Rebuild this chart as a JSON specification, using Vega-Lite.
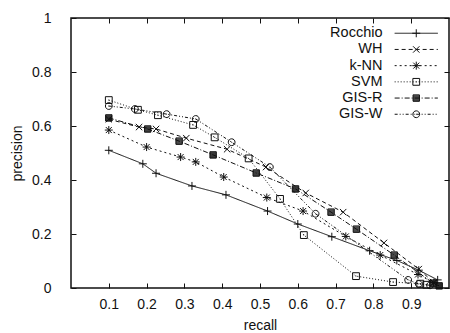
{
  "$schema": "https://vega.github.io/schema/vega-lite/v6.json",
  "width": 378,
  "height": 270,
  "autosize": {"type": "none"},
  "padding": {"left": 71, "top": 18, "right": 1, "bottom": 45},
  "config": {
    "font": "Liberation Sans",
    "view": {"stroke": "#111", "strokeWidth": 1.5},
    "axis": {"grid": false, "domain": false, "tickColor": "#111", "tickWidth": 1, "labelColor": "#111", "titleColor": "#111", "labelFontSize": 14, "titleFontSize": 14, "titleFontWeight": "normal"},
    "legend": {"padding": 0}
  },
  "data": {
    "values": [
      {"method": "Rocchio", "recall": 0.1, "precision": 0.51},
      {"method": "Rocchio", "recall": 0.19, "precision": 0.46},
      {"method": "Rocchio", "recall": 0.225, "precision": 0.425},
      {"method": "Rocchio", "recall": 0.32, "precision": 0.378},
      {"method": "Rocchio", "recall": 0.41, "precision": 0.345},
      {"method": "Rocchio", "recall": 0.52, "precision": 0.285},
      {"method": "Rocchio", "recall": 0.6, "precision": 0.237},
      {"method": "Rocchio", "recall": 0.69, "precision": 0.19},
      {"method": "Rocchio", "recall": 0.79, "precision": 0.138},
      {"method": "Rocchio", "recall": 0.862, "precision": 0.102},
      {"method": "Rocchio", "recall": 0.92, "precision": 0.066},
      {"method": "Rocchio", "recall": 0.97, "precision": 0.03},
      {"method": "WH", "recall": 0.1, "precision": 0.625},
      {"method": "WH", "recall": 0.18, "precision": 0.596},
      {"method": "WH", "recall": 0.225, "precision": 0.589},
      {"method": "WH", "recall": 0.305, "precision": 0.555},
      {"method": "WH", "recall": 0.413, "precision": 0.514},
      {"method": "WH", "recall": 0.516, "precision": 0.448},
      {"method": "WH", "recall": 0.621, "precision": 0.352},
      {"method": "WH", "recall": 0.72, "precision": 0.281},
      {"method": "WH", "recall": 0.828, "precision": 0.167},
      {"method": "WH", "recall": 0.92, "precision": 0.07},
      {"method": "WH", "recall": 0.96, "precision": 0.02},
      {"method": "k-NN", "recall": 0.1, "precision": 0.585},
      {"method": "k-NN", "recall": 0.2, "precision": 0.522},
      {"method": "k-NN", "recall": 0.29, "precision": 0.485},
      {"method": "k-NN", "recall": 0.33, "precision": 0.467},
      {"method": "k-NN", "recall": 0.404, "precision": 0.411},
      {"method": "k-NN", "recall": 0.518, "precision": 0.335},
      {"method": "k-NN", "recall": 0.614, "precision": 0.285},
      {"method": "k-NN", "recall": 0.727, "precision": 0.191},
      {"method": "k-NN", "recall": 0.818, "precision": 0.122},
      {"method": "k-NN", "recall": 0.918, "precision": 0.05},
      {"method": "k-NN", "recall": 0.96, "precision": 0.02},
      {"method": "SVM", "recall": 0.1, "precision": 0.696},
      {"method": "SVM", "recall": 0.177, "precision": 0.66},
      {"method": "SVM", "recall": 0.23, "precision": 0.64},
      {"method": "SVM", "recall": 0.323, "precision": 0.604},
      {"method": "SVM", "recall": 0.38, "precision": 0.558},
      {"method": "SVM", "recall": 0.47, "precision": 0.48},
      {"method": "SVM", "recall": 0.553, "precision": 0.33},
      {"method": "SVM", "recall": 0.616, "precision": 0.196},
      {"method": "SVM", "recall": 0.754, "precision": 0.044},
      {"method": "SVM", "recall": 0.852, "precision": 0.022},
      {"method": "SVM", "recall": 0.924, "precision": 0.016},
      {"method": "SVM", "recall": 0.94, "precision": 0.012},
      {"method": "GIS-R", "recall": 0.1, "precision": 0.63},
      {"method": "GIS-R", "recall": 0.203, "precision": 0.589},
      {"method": "GIS-R", "recall": 0.286, "precision": 0.544},
      {"method": "GIS-R", "recall": 0.376, "precision": 0.493},
      {"method": "GIS-R", "recall": 0.49, "precision": 0.426},
      {"method": "GIS-R", "recall": 0.594, "precision": 0.367},
      {"method": "GIS-R", "recall": 0.688, "precision": 0.281},
      {"method": "GIS-R", "recall": 0.755, "precision": 0.218},
      {"method": "GIS-R", "recall": 0.855, "precision": 0.122},
      {"method": "GIS-R", "recall": 0.958, "precision": 0.018},
      {"method": "GIS-R", "recall": 0.974, "precision": 0.008},
      {"method": "GIS-W", "recall": 0.1, "precision": 0.674},
      {"method": "GIS-W", "recall": 0.169, "precision": 0.663},
      {"method": "GIS-W", "recall": 0.253, "precision": 0.644},
      {"method": "GIS-W", "recall": 0.33, "precision": 0.626},
      {"method": "GIS-W", "recall": 0.425, "precision": 0.54},
      {"method": "GIS-W", "recall": 0.526, "precision": 0.448},
      {"method": "GIS-W", "recall": 0.647, "precision": 0.275},
      {"method": "GIS-W", "recall": 0.892, "precision": 0.03},
      {"method": "GIS-W", "recall": 0.92, "precision": 0.015},
      {"method": "GIS-W", "recall": 0.95, "precision": 0.01}
    ]
  },
  "layer": [
    {
      "mark": {"type": "line", "color": "#111", "strokeWidth": 1},
      "encoding": {
        "x": {"field": "recall", "type": "quantitative", "scale": {"domain": [0, 1], "nice": false},
          "axis": {"orient": "bottom", "values": [0.1, 0.2, 0.3, 0.4, 0.5, 0.6, 0.7, 0.8, 0.9], "labelExpr": "'' + datum.value", "tickSize": -5, "labelPadding": 14, "title": "recall", "titlePadding": 7}},
        "y": {"field": "precision", "type": "quantitative", "scale": {"domain": [0, 1], "nice": false},
          "axis": {"orient": "left", "values": [0, 0.2, 0.4, 0.6, 0.8, 1], "labelExpr": "'' + datum.value", "tickSize": -5, "labelPadding": 25, "title": "precision", "titlePadding": 7}},
        "strokeDash": {"field": "method", "type": "nominal",
          "scale": {"domain": ["Rocchio", "WH", "k-NN", "SVM", "GIS-R", "GIS-W"], "range": [[1, 0], [4, 3], [2, 3], [1, 2], [5, 2, 1, 2], [3, 2, 1, 2, 1, 2]]},
          "legend": {"orient": "none", "legendX": 338, "legendY": 8, "title": null, "symbolType": "M-5.4,0L5.4,0", "symbolSize": 64, "symbolStrokeWidth": 1, "symbolStrokeColor": "#111", "symbolFillColor": "transparent", "labelAlign": "right", "labelOffset": -41, "labelFontSize": 14.5, "labelColor": "#111", "rowPadding": 1.2}}
      }
    },
    {
      "mark": {"type": "point", "stroke": "#111", "strokeWidth": 1, "size": 64, "opacity": 1, "filled": false},
      "encoding": {
        "x": {"field": "recall", "type": "quantitative",
          "axis": {"orient": "top", "values": [0.1, 0.2, 0.3, 0.4, 0.5, 0.6, 0.7, 0.8, 0.9], "labels": false, "tickSize": -5, "title": null}},
        "y": {"field": "precision", "type": "quantitative",
          "axis": {"orient": "right", "values": [0, 0.2, 0.4, 0.6, 0.8, 1], "labels": false, "tickSize": -5, "title": null}},
        "shape": {"field": "method", "type": "nominal", "sort": ["Rocchio", "WH", "k-NN", "SVM", "GIS-R", "GIS-W"],
          "scale": {"range": ["M-1,0L1,0M0,-1L0,1", "M-0.8,-0.8L0.8,0.8M-0.8,0.8L0.8,-0.8", "M-1,0L1,0M0,-1L0,1M-0.75,-0.75L0.75,0.75M-0.75,0.75L0.75,-0.75", "M-0.85,-0.85L0.85,-0.85L0.85,0.85L-0.85,0.85ZM-0.1,0L0.1,0", "M-0.8,-0.8L0.8,-0.8L0.8,0.8L-0.8,0.8ZM-0.8,-0.55L0.8,-0.55M-0.8,-0.3L0.8,-0.3M-0.8,-0.05L0.8,-0.05M-0.8,0.2L0.8,0.2M-0.8,0.45L0.8,0.45M-0.8,0.7L0.8,0.7", "M0.85,0A0.85,0.85,0,1,1,-0.85,0A0.85,0.85,0,1,1,0.85,0ZM-0.1,0L0.1,0"]},
          "legend": {"orient": "none", "legendX": 338, "legendY": 8, "title": null, "symbolSize": 64, "symbolStrokeWidth": 1, "symbolStrokeColor": "#111", "symbolFillColor": "transparent", "labelAlign": "right", "labelOffset": -41, "labelFontSize": 14.5, "labelColor": "transparent", "rowPadding": 1.2}}
      }
    }
  ],
  "resolve": {"axis": {"x": "independent", "y": "independent"}}
}
